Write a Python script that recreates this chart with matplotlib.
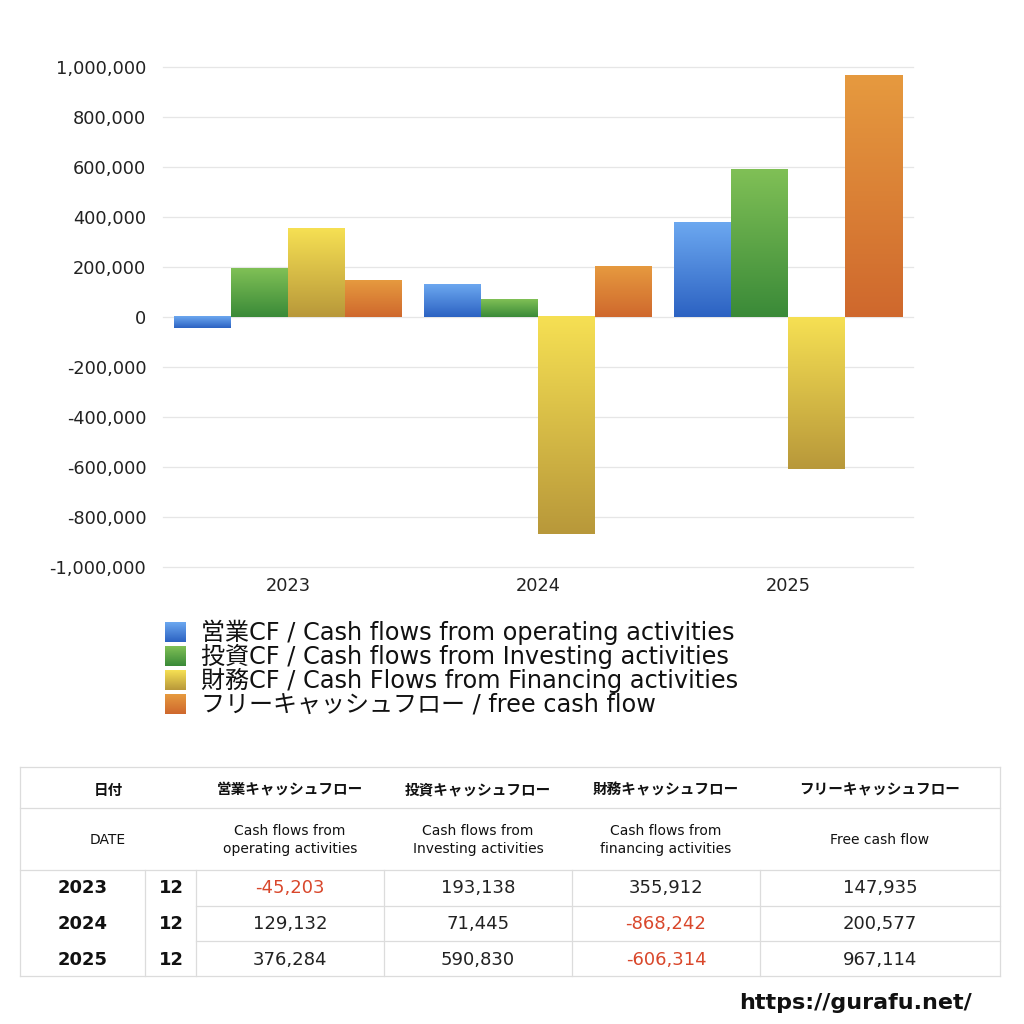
import numpy as np
import matplotlib
matplotlib.use("Agg")
import matplotlib.pyplot as plt
from matplotlib.lines import Line2D
from matplotlib.ticker import FuncFormatter
from matplotlib.colors import LinearSegmentedColormap

plt.rcParams['font.family'] = ['DejaVu Sans', 'Noto Sans CJK JP']
JP = ['Noto Sans CJK JP', 'DejaVu Sans']

# ---------------- data ----------------
years = ["2023", "2024", "2025"]
months = ["12", "12", "12"]
operating_cf = [-45203, 129132, 376284]
investing_cf = [193138, 71445, 590830]
financing_cf = [355912, -868242, -606314]
free_cf = [147935, 200577, 967114]

series_labels = [
    "営業CF / Cash flows from operating activities",
    "投資CF / Cash flows from Investing activities",
    "財務CF / Cash Flows from Financing activities",
    "フリーキャッシュフロー / free cash flow",
]
table_head_jp = ["日付", "営業キャッシュフロー", "投資キャッシュフロー", "財務キャッシュフロー", "フリーキャッシュフロー"]
table_head_en = ["DATE", "Cash flows from\noperating activities", "Cash flows from\nInvesting activities",
                 "Cash flows from\nfinancing activities", "Free cash flow"]
yticks = [-1000000, -800000, -600000, -400000, -200000, 0, 200000, 400000, 600000, 800000, 1000000]

# gradient (top, bottom) colours per series
grads = [("#6ca8f0", "#2c62c2"),
         ("#80c056", "#3a8a38"),
         ("#f6e053", "#b8983a"),
         ("#e69a3f", "#cf682d")]

W = H = 1024
fig = plt.figure(figsize=(10.24, 10.24), dpi=100)
fig.patch.set_facecolor("white")

def fx(px):
    return px / W

def fy(py):
    return 1 - py / H

# ---------------- chart ----------------
ax = fig.add_axes([fx(163), fy(567), fx(913) - fx(163), fy(67) - fy(567)])
all_series = [operating_cf, investing_cf, financing_cf, free_cf]
x = np.arange(len(years))
bw = 0.228
offsets = (np.arange(4) - 1.5) * bw
for i, (vals, (ctop, cbot)) in enumerate(zip(all_series, grads)):
    bars = ax.bar(x + offsets[i], vals, width=bw, color="none", edgecolor="none", zorder=3)
    cmap = LinearSegmentedColormap.from_list(f"g{i}", [ctop, cbot])
    grad = np.linspace(0, 1, 256).reshape(-1, 1)
    for b in bars:
        x0 = b.get_x()
        x1 = x0 + b.get_width()
        y0 = b.get_y()
        y1 = y0 + b.get_height()
        top, bot = max(y0, y1), min(y0, y1)
        ax.imshow(grad, cmap=cmap, aspect="auto", extent=(x0, x1, bot, top),
                  origin="upper", zorder=3, interpolation="bilinear")

ax.set_xlim(-0.5, len(years) - 0.5)
ax.set_ylim(-1000000, 1000000)
ax.set_yticks(yticks)
ax.yaxis.set_major_formatter(FuncFormatter(lambda v, p: f"{int(v):,}"))
ax.set_xticks(x)
ax.set_xticklabels(years)
for s in ax.spines.values():
    s.set_visible(False)
ax.tick_params(axis="both", length=0, labelsize=12.8, colors="#222222")
ax.tick_params(axis="y", pad=12)
ax.tick_params(axis="x", pad=7)
ax.grid(axis="y", color="#e6e6e6", linewidth=0.9, zorder=0)
for gl in ax.get_ygridlines():
    gl.set_clip_on(False)
ax.set_axisbelow(True)

# ---------------- legend ----------------
leg_y = [632, 656, 680, 704]
for i, (lab, (ctop, cbot)) in enumerate(zip(series_labels, grads)):
    sq = fig.add_axes([fx(165), fy(leg_y[i] + 10), fx(21), 20 / H])
    cmap = LinearSegmentedColormap.from_list(f"l{i}", [ctop, cbot])
    sq.imshow(np.linspace(0, 1, 64).reshape(-1, 1), cmap=cmap, aspect="auto")
    sq.axis("off")
    fig.text(fx(201), fy(leg_y[i]), lab, fontsize=17.3, va="center", ha="left", color="#111111")

# ---------------- table ----------------
lc = "#dcdcdc"
def hline(y, x0, x1):
    fig.add_artist(Line2D([fx(x0), fx(x1)], [fy(y), fy(y)], color=lc, lw=0.9))

def vline(xp, y0, y1):
    fig.add_artist(Line2D([fx(xp), fx(xp)], [fy(y0), fy(y1)], color=lc, lw=0.9))

T_L, T_R = 20, 1000
hline(767, T_L, T_R)
hline(808, T_L, T_R)
hline(870, T_L, T_R)
hline(906, 196, T_R)
hline(941, 196, T_R)
hline(976, T_L, T_R)
vline(T_L, 767, 976)
vline(T_R, 767, 976)
for xv in [145, 196, 384, 572, 760]:
    vline(xv, 870, 976)

col_centers = [108, 290, 478, 666, 880]
for c, jp, en in zip(col_centers, table_head_jp, table_head_en):
    fig.text(fx(c), fy(788), jp, fontsize=10.5, fontweight="bold", ha="center", va="center_baseline",
             color="#111111", family=JP)
    fig.text(fx(c), fy(840), en, fontsize=10, ha="center", va="center", color="#111111",
             linespacing=1.45)

row_y = [888, 924, 960]
val_centers = [290, 478, 666, 880]
red = "#d9472b"
for r in range(len(years)):
    fig.text(fx(83), fy(row_y[r]), years[r], fontsize=13, fontweight="bold", ha="center", va="center", color="#111111")
    fig.text(fx(171), fy(row_y[r]), months[r], fontsize=13, fontweight="bold", ha="center", va="center", color="#111111")
    for c, vals in zip(val_centers, all_series):
        v = vals[r]
        fig.text(fx(c), fy(row_y[r]), f"{v:,}", fontsize=13, ha="center", va="center",
                 color=red if v < 0 else "#222222")

fig.text(fx(972), fy(1003), "https://gurafu.net/", fontsize=16, fontweight="bold", ha="right", va="center",
         color="#111111")

fig.savefig("out.png", dpi=100, facecolor="white")
